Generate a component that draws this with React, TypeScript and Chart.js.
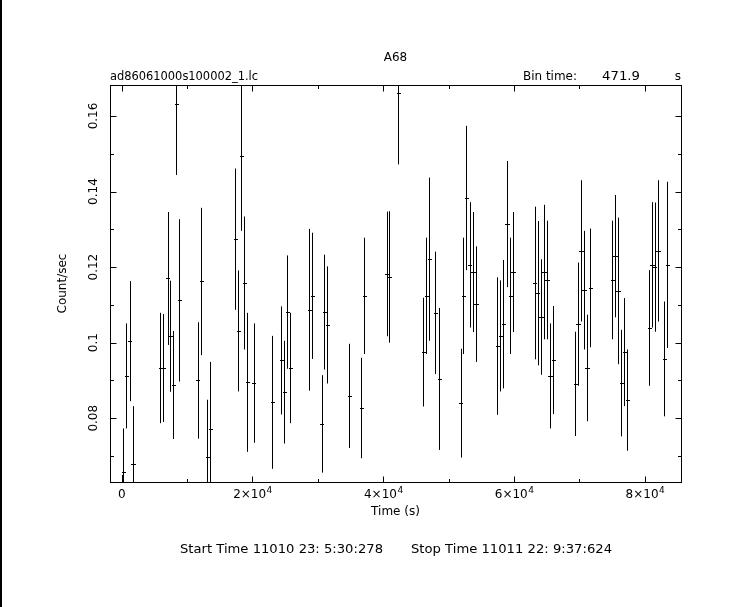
import React, { useEffect, useRef } from "react";
import { Chart, registerables } from "chart.js";

Chart.register(...registerables);

// ---- data ----
const times = [
  0, 250, 708, 1218, 1728, 5907, 6366, 7029, 7437, 7896, 8355, 8814, 11631, 12141, 13109, 13568,
  17391, 17850, 18258, 18717, 19176, 20195, 22999, 24426, 24885, 25344, 25802, 28690, 29148, 30575,
  30982, 31441, 34805, 36640, 37099, 40514, 40921, 42297, 46121, 46580, 47039, 47956, 48568, 51829,
  52236, 52695, 53205, 53714, 54173, 57434, 57892, 58351, 58912, 59422, 59830, 63144, 63602, 64112,
  64571, 65030, 65488, 65998, 69360, 69768, 70227, 70686, 71144, 71654, 75016, 75425, 75884, 76393,
  76852, 77310, 80676, 81083, 81491, 82001, 82969, 83428,
];
const rates = [
  0.052, 0.0657, 0.0912, 0.1004, 0.0679, 0.0933, 0.0933, 0.117, 0.1017, 0.0888, 0.1632, 0.1112, 0.09,
  0.1162, 0.0697, 0.0771, 0.1274, 0.1031, 0.1493, 0.1158, 0.0895, 0.0893, 0.0842, 0.0953, 0.0869,
  0.1081, 0.0933, 0.1087, 0.1124, 0.0785, 0.1081, 0.1047, 0.0859, 0.0827, 0.1124, 0.1182, 0.1174,
  0.166, 0.0975, 0.1124, 0.1221, 0.1079, 0.0904, 0.084, 0.1124, 0.1383, 0.1206, 0.1187, 0.1102,
  0.0991, 0.1018, 0.1049, 0.1314, 0.1124, 0.1187, 0.1158, 0.1131, 0.1068, 0.1187, 0.1166, 0.0912,
  0.0954, 0.0891, 0.1049, 0.1243, 0.1139, 0.0933, 0.1145, 0.1166, 0.1229, 0.1137, 0.0893, 0.0975,
  0.0848, 0.1039, 0.1206, 0.12, 0.1243, 0.0957, 0.1206,
];
const errors = [
  0.013, 0.0116, 0.0139, 0.0159, 0.0153, 0.0146, 0.0143, 0.0176, 0.0147, 0.0143, 0.0188, 0.0215,
  0.0154, 0.0195, 0.0152, 0.0178, 0.0187, 0.016, 0.0197, 0.0176, 0.0184, 0.0158, 0.0176, 0.0143,
  0.0136, 0.015, 0.0146, 0.0214, 0.0167, 0.0129, 0.0152, 0.0155, 0.0138, 0.0133, 0.0154, 0.0165,
  0.0174, 0.0188, 0.0144, 0.0154, 0.0216, 0.0162, 0.0188, 0.0144, 0.0154, 0.0191, 0.0166, 0.0159,
  0.0153, 0.0182, 0.0147, 0.017, 0.0167, 0.0154, 0.0159, 0.0202, 0.0191, 0.0153, 0.0178, 0.0157,
  0.0139, 0.0143, 0.0138, 0.0163, 0.0187, 0.0157, 0.0141, 0.0157, 0.0157, 0.0162, 0.0194, 0.0141,
  0.0143, 0.0134, 0.0153, 0.0166, 0.0171, 0.0187, 0.0152, 0.022,
];
const binTime = 471.9;

const xMajorTicks = [0, 20000, 40000, 60000, 80000];
const xTickMantissas = ["0", "2", "4", "6", "8"];
const xTickExponent = "4";
const xMinorTicks = [10000, 30000, 50000, 70000];
const yMajorTicks = [0.08, 0.1, 0.12, 0.14, 0.16];
const yTickLabels = ["0.08", "0.1", "0.12", "0.14", "0.16"];
const yMinorTicks = [0.07, 0.09, 0.11, 0.13, 0.15];

const titleText = "A68";
const fileText = "ad86061000s100002_1.lc";
const binLabel = "Bin time:";
const binValue = "471.9";
const binUnit = "s";
const xTitle = "Time (s)";
const yTitle = "Count/sec";
const startText = "Start Time 11010 23: 5:30:278";
const stopText = "Stop Time 11011 22: 9:37:624";

const W = 743;
const H = 607;
const FONT = '"DejaVu Sans", sans-serif';

function fitText(
  ctx: CanvasRenderingContext2D,
  s: string,
  x: number,
  y: number,
  align: "left" | "center" | "right",
  width?: number
) {
  const m = ctx.measureText(s).width;
  const sx = width ? width / m : 1;
  const w = m * sx;
  let left = x;
  if (align === "center") left = x - w / 2;
  if (align === "right") left = x - w;
  ctx.save();
  ctx.textAlign = "left";
  ctx.translate(left, y);
  ctx.scale(sx, 1);
  ctx.fillText(s, 0, 0);
  ctx.restore();
}

const lcPlugin = {
  id: "lcPlugin",
  afterDatasetsDraw(chart: any) {
    const { ctx, chartArea: a } = chart;
    const xs = chart.scales.x;
    const ys = chart.scales.y;
    const L = Math.round(a.left) + 0.5;
    const R = Math.round(a.right) + 0.5;
    const T = Math.round(a.top) + 0.5;
    const B = Math.round(a.bottom) + 0.5;

    ctx.save();
    ctx.fillStyle = "#fff";
    ctx.fillRect(0, 0, W, H);
    ctx.fillStyle = "#000";
    ctx.fillRect(0, 0, 2, H);

    // error bars
    ctx.save();
    ctx.beginPath();
    ctx.rect(a.left, a.top, a.right - a.left, a.bottom - a.top);
    ctx.clip();
    ctx.strokeStyle = "#000";
    ctx.lineWidth = 1;
    for (let i = 0; i < times.length; i++) {
      const px = Math.round(xs.getPixelForValue(times[i])) + 0.5;
      const y1 = ys.getPixelForValue(rates[i] + errors[i]);
      const y2 = ys.getPixelForValue(rates[i] - errors[i]);
      const py = Math.round(ys.getPixelForValue(rates[i])) + 0.5;
      const xl = xs.getPixelForValue(times[i] - binTime / 2);
      const xr = xs.getPixelForValue(times[i] + binTime / 2);
      ctx.beginPath();
      ctx.moveTo(px, y1);
      ctx.lineTo(px, y2);
      ctx.moveTo(Math.round(xl), py);
      ctx.lineTo(Math.round(xr) + 1, py);
      ctx.stroke();
    }
    ctx.restore();

    // frame
    ctx.strokeStyle = "#000";
    ctx.lineWidth = 1;
    ctx.strokeRect(L, T, R - L, B - T);

    // ticks
    const major = 6;
    const minor = 3.5;
    ctx.beginPath();
    const xt = (v: number, len: number) => {
      const p = Math.round(xs.getPixelForValue(v)) + 0.5;
      ctx.moveTo(p, B);
      ctx.lineTo(p, B - len);
      ctx.moveTo(p, T);
      ctx.lineTo(p, T + len);
    };
    const yt = (v: number, len: number) => {
      const p = Math.round(ys.getPixelForValue(v)) + 0.5;
      ctx.moveTo(L, p);
      ctx.lineTo(L + len, p);
      ctx.moveTo(R, p);
      ctx.lineTo(R - len, p);
    };
    xMajorTicks.forEach((v) => xt(v, major));
    xMinorTicks.forEach((v) => xt(v, minor));
    yMajorTicks.forEach((v) => yt(v, major));
    yMinorTicks.forEach((v) => yt(v, minor));
    ctx.stroke();

    ctx.fillStyle = "#000";
    ctx.textBaseline = "alphabetic";

    // x tick labels with superscript exponent
    xMajorTicks.forEach((v, i) => {
      const p = xs.getPixelForValue(v);
      const base = 498;
      if (v === 0) {
        ctx.font = `12px ${FONT}`;
        fitText(ctx, xTickMantissas[i], p, base, "center");
        return;
      }
      const main = xTickMantissas[i] + "\u00d710";
      ctx.font = `12px ${FONT}`;
      const w1 = ctx.measureText(main).width;
      ctx.font = `9px ${FONT}`;
      const w2 = ctx.measureText(xTickExponent).width;
      const left = p - (w1 + w2) / 2;
      ctx.font = `12px ${FONT}`;
      ctx.textAlign = "left";
      ctx.fillText(main, left, base);
      ctx.font = `9px ${FONT}`;
      ctx.fillText(xTickExponent, left + w1 + 0.5, base - 5);
    });

    // y tick labels (rotated)
    ctx.font = `12px ${FONT}`;
    yMajorTicks.forEach((v, i) => {
      const p = ys.getPixelForValue(v);
      ctx.save();
      ctx.translate(97, p);
      ctx.rotate(-Math.PI / 2);
      ctx.textAlign = "center";
      ctx.fillText(yTickLabels[i], 0, 0);
      ctx.restore();
    });

    // axis titles
    ctx.font = `12px ${FONT}`;
    fitText(ctx, xTitle, (a.left + a.right) / 2, 515, "center");
    ctx.save();
    ctx.translate(66, (a.top + a.bottom) / 2);
    ctx.rotate(-Math.PI / 2);
    fitText(ctx, yTitle, 0, 0, "center");
    ctx.restore();

    // header texts
    fitText(ctx, titleText, (a.left + a.right) / 2, 61, "center");
    fitText(ctx, fileText, 110, 80, "left", 148);
    fitText(ctx, binLabel, 523, 80, "left", 54);
    fitText(ctx, binValue, 602, 80, "left", 38);
    fitText(ctx, binUnit, 681, 80, "right");

    // footer
    fitText(ctx, startText, 180, 553, "left", 203);
    fitText(ctx, stopText, 411, 553, "left", 201);
    ctx.restore();
  },
};

export default function App() {
  const ref = useRef<HTMLCanvasElement>(null);
  useEffect(() => {
    if (!ref.current) return;
    const points = times.map((t, i) => ({ x: t, y: rates[i] }));
    const chart = new Chart(ref.current, {
      type: "scatter",
      data: {
        datasets: [
          {
            data: points,
            pointRadius: 0,
            showLine: false,
          },
        ],
      },
      options: {
        animation: false,
        responsive: false,
        devicePixelRatio: 1,
        layout: { padding: { left: 110, top: 85, right: W - 681, bottom: H - 482 } },
        plugins: { legend: { display: false }, tooltip: { enabled: false } },
        scales: {
          x: { type: "linear", min: -1789, max: 85520, display: false },
          y: { type: "linear", min: 0.06312, max: 0.16821, display: false },
        },
      },
      plugins: [lcPlugin],
    });
    return () => chart.destroy();
  }, []);
  return (
    <div style={{ position: "fixed", left: 0, top: 0, width: W, height: H, background: "#fff" }}>
      <canvas ref={ref} width={W} height={H} style={{ width: W, height: H, display: "block" }} />
    </div>
  );
}
